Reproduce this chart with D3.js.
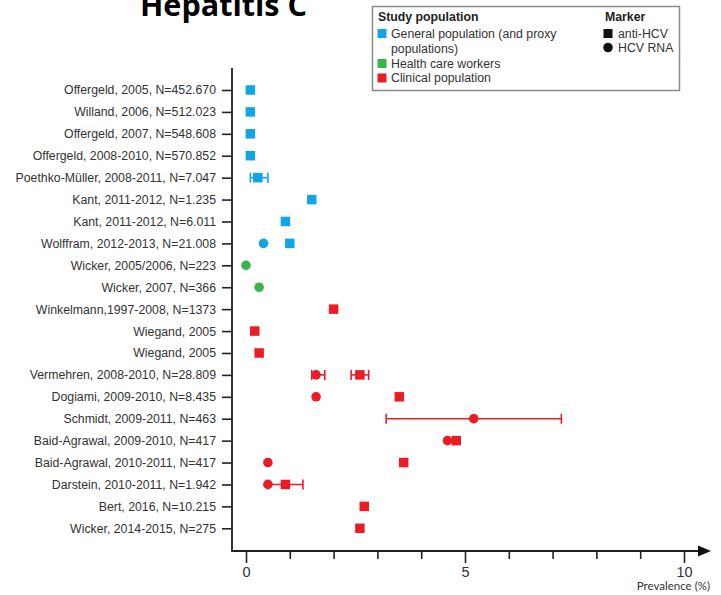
<!DOCTYPE html>
<html><head><meta charset="utf-8">
<script src="https://cdn.jsdelivr.net/npm/d3@7/dist/d3.min.js"></script>
<style>
html,body{margin:0;padding:0;background:#fff;}
svg{display:block;}
</style></head>
<body>
<svg id="chart" width="721" height="595"></svg>
<script>
// ---- data ----
const studies = [
  "Offergeld, 2005, N=452.670",
  "Willand, 2006, N=512.023",
  "Offergeld, 2007, N=548.608",
  "Offergeld, 2008-2010, N=570.852",
  "Poethko-Müller, 2008-2011, N=7.047",
  "Kant, 2011-2012, N=1.235",
  "Kant, 2011-2012, N=6.011",
  "Wolffram, 2012-2013, N=21.008",
  "Wicker, 2005/2006, N=223",
  "Wicker, 2007, N=366",
  "Winkelmann,1997-2008, N=1373",
  "Wiegand, 2005",
  "Wiegand, 2005",
  "Vermehren, 2008-2010, N=28.809",
  "Dogiami, 2009-2010, N=8.435",
  "Schmidt, 2009-2011, N=463",
  "Baid-Agrawal, 2009-2010, N=417",
  "Baid-Agrawal, 2010-2011, N=417",
  "Darstein, 2010-2011, N=1.942",
  "Bert, 2016, N=10.215",
  "Wicker, 2014-2015, N=275"
];
const population = ["gen","gen","gen","gen","gen","gen","gen","gen","hcw","hcw",
  "clin","clin","clin","clin","clin","clin","clin","clin","clin","clin","clin"];
const antiHCV    = [0.1,0.1,0.1,0.1,0.27,1.5,0.9,1.0,null,null,2.0,0.2,0.3,2.6,3.5,null,4.8,3.6,0.9,2.7,2.6];
const antiHCVLow = [null,null,null,null,0.1,null,null,null,null,null,null,null,null,2.4,null,null,null,null,0.5,null,null];
const antiHCVHigh= [null,null,null,null,0.5,null,null,null,null,null,null,null,null,2.8,null,null,null,null,1.3,null,null];
const hcvRNA     = [null,null,null,null,null,null,null,0.4,0.0,0.3,null,null,null,1.6,1.6,5.2,4.6,0.5,0.5,null,null];
const hcvRNALow  = [null,null,null,null,null,null,null,null,null,null,null,null,null,1.5,null,3.2,null,null,null,null,null];
const hcvRNAHigh = [null,null,null,null,null,null,null,null,null,null,null,null,null,1.8,null,7.2,null,null,null,null,null];
const xTicks = [0,1,2,3,4,5,6,7,8,9,10];
const xTickLabels = ["0","","","","","5","","","","","10"];
const popLegend = [
  {key:"gen",  lines:["General population (and proxy","populations)"]},
  {key:"hcw",  lines:["Health care workers"]},
  {key:"clin", lines:["Clinical population"]}
];
const markerLegend = ["anti-HCV","HCV RNA"];

// ---- styles ----
const colors = {gen:"#12a5e6", hcw:"#3bb54a", clin:"#ec1c24"};
const labelFont = "Liberation Sans, Arial, sans-serif";

const svg = d3.select("#chart");
const x = d3.scaleLinear().domain([0,10]).range([246,684]);
const y = d3.scalePoint().domain(d3.range(studies.length)).range([90,528.3]);
const axisY = 551, axisX = 232;

// title
const title = svg.append("text").text("Hepatitis C")
  .attr("font-family","Open Sans, sans-serif").attr("font-weight","bold")
  .attr("font-size",100).attr("x",140).attr("y",16).attr("fill","#000");
const w100 = title.node().getComputedTextLength();
title.attr("font-size", 100*167/w100);

// legend
const lg = svg.append("g");
lg.append("rect").attr("x",372.5).attr("y",6.5).attr("width",307).attr("height",84)
  .attr("fill","#fff").attr("stroke","#8a8a8a").attr("stroke-width",1.5);
lg.append("text").attr("x",378).attr("y",20.5).text("Study population")
  .attr("font-family",labelFont).attr("font-weight","bold").attr("font-size",12.3).attr("fill","#222");
lg.append("text").attr("x",605).attr("y",20.5).text("Marker")
  .attr("font-family",labelFont).attr("font-weight","bold").attr("font-size",12.3).attr("fill","#222");
const legRowY = [33.5, 63.5, 78];
popLegend.forEach((p,i)=>{
  const yy = legRowY[i];
  lg.append("rect").attr("x",377.5).attr("y",yy-4.5).attr("width",9).attr("height",9).attr("fill",colors[p.key]);
  p.lines.forEach((ln,j)=>{
    lg.append("text").attr("x",391).attr("y",yy+4.3+j*15.5).text(ln)
      .attr("font-family",labelFont).attr("font-size",12.3).attr("fill","#333");
  });
});
lg.append("rect").attr("x",603.5).attr("y",29).attr("width",9).attr("height",9).attr("fill","#111");
lg.append("circle").attr("cx",608).attr("cy",47.5).attr("r",4.8).attr("fill","#111");
markerLegend.forEach((m,i)=>{
  lg.append("text").attr("x",618).attr("y",37.8+i*14).text(m)
    .attr("font-family",labelFont).attr("font-size",12.3).attr("fill","#333");
});

// y axis
const yAxis = d3.axisLeft(y).tickSize(10).tickPadding(6).tickFormat(i=>studies[i]);
const gy = svg.append("g").attr("transform",`translate(${axisX},0)`).call(yAxis);
gy.select(".domain").remove();
gy.selectAll(".tick line").attr("stroke","#222").attr("stroke-width",1.6);
gy.selectAll(".tick text").attr("font-family",labelFont).attr("font-size",12.3).attr("fill","#333");
svg.append("line").attr("x1",axisX).attr("x2",axisX).attr("y1",68).attr("y2",axisY)
  .attr("stroke","#222").attr("stroke-width",1.8);

// x axis
const xAxis = d3.axisBottom(x).tickValues(xTicks).tickSize(8).tickPadding(4)
  .tickFormat((d,i)=>xTickLabels[i]);
const gx = svg.append("g").attr("transform",`translate(0,${axisY})`).call(xAxis);
gx.select(".domain").remove();
gx.selectAll(".tick line").attr("stroke","#222").attr("stroke-width",1.6)
  .attr("y2",(d,i)=>xTickLabels[i]!==""?12:8);
gx.selectAll(".tick text").attr("font-family",labelFont).attr("font-size",14.5).attr("fill","#333")
  .attr("y",16).attr("dy","0.71em");
svg.append("line").attr("x1",axisX-0.9).attr("x2",700).attr("y1",axisY).attr("y2",axisY)
  .attr("stroke","#222").attr("stroke-width",1.8);
svg.append("path").attr("d",`M698,${axisY-5.5} L711,${axisY} L698,${axisY+5.5} Z`).attr("fill","#111");
svg.append("text").attr("x",710).attr("y",590).attr("text-anchor","end").text("Prevalence (%)")
  .attr("font-family","Lato, sans-serif").attr("font-size",11.5).attr("fill","#333");

// error bars
function errBars(lo, hi){
  const data = studies.map((s,i)=>({i,lo:lo[i],hi:hi[i]})).filter(d=>d.lo!=null);
  const g = svg.append("g");
  data.forEach(d=>{
    const c = colors[population[d.i]], yy = y(d.i);
    g.append("line").attr("x1",x(d.lo)).attr("x2",x(d.hi)).attr("y1",yy).attr("y2",yy)
      .attr("stroke",c).attr("stroke-width",1.6);
    [d.lo,d.hi].forEach(v=>g.append("line").attr("x1",x(v)).attr("x2",x(v))
      .attr("y1",yy-5).attr("y2",yy+5).attr("stroke",c).attr("stroke-width",1.6));
  });
}
errBars(antiHCVLow, antiHCVHigh);
errBars(hcvRNALow, hcvRNAHigh);

// circles (HCV RNA)
svg.append("g").selectAll("circle")
  .data(studies.map((s,i)=>({i,v:hcvRNA[i]})).filter(d=>d.v!=null))
  .join("circle").attr("cx",d=>x(d.v)).attr("cy",d=>y(d.i)).attr("r",4.8)
  .attr("fill",d=>colors[population[d.i]]);

// squares (anti-HCV)
const sq = 9.5;
svg.append("g").selectAll("rect")
  .data(studies.map((s,i)=>({i,v:antiHCV[i]})).filter(d=>d.v!=null))
  .join("rect").attr("x",d=>x(d.v)-sq/2).attr("y",d=>y(d.i)-sq/2).attr("width",sq).attr("height",sq)
  .attr("fill",d=>colors[population[d.i]]);
</script>
</body></html>
